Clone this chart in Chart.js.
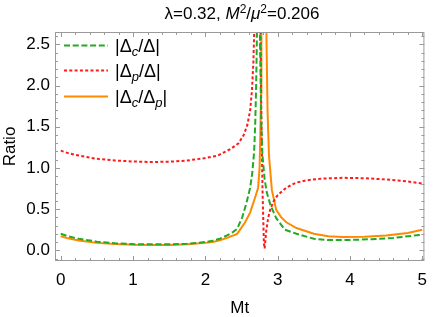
<!DOCTYPE html>
<html>
<head>
<meta charset="utf-8">
<script src="https://cdn.jsdelivr.net/npm/chart.js@4/dist/chart.umd.min.js"></script>
<style>
  html, body { margin: 0; padding: 0; background: #fff; }
  #wrap { width: 436px; height: 317px; }
</style>
</head>
<body>
<div id="wrap"><canvas id="myChart" width="436" height="317"></canvas></div>
<script>
// data
const xTicks = [0, 1, 2, 3, 4, 5];
const yTicks = [0, 0.5, 1.0, 1.5, 2.0, 2.5];

const greenX = [0, 0.1, 0.25, 0.5, 0.75, 1.0, 1.25, 1.5, 1.75, 2.0, 2.1, 2.2, 2.3, 2.38, 2.44, 2.51, 2.57, 2.62, 2.65, 2.675, 2.69, 2.70, 2.71, 2.72, 2.73, 2.745, 2.755, 2.765, 2.775, 2.79, 2.82, 2.85, 2.9, 2.98, 3.1, 3.26, 3.5, 3.7, 4.0, 4.3, 4.6, 4.8, 5.0];
const greenY = [0.20, 0.17, 0.14, 0.105, 0.085, 0.075, 0.072, 0.073, 0.08, 0.10, 0.115, 0.14, 0.18, 0.22, 0.26, 0.40, 0.58, 0.76, 0.95, 1.2, 1.55, 1.9, 2.4, 3.2, 4.5, 3.4, 2.6, 2.0, 1.5, 1.15, 0.86, 0.70, 0.55, 0.39, 0.25, 0.20, 0.14, 0.125, 0.125, 0.135, 0.15, 0.17, 0.19];

const redX = [0, 0.1, 0.25, 0.5, 0.75, 1.0, 1.25, 1.5, 1.75, 2.0, 2.17, 2.35, 2.46, 2.53, 2.58, 2.62, 2.645, 2.665, 2.68, 2.70, 2.73, 2.75, 2.76, 2.77, 2.78, 2.79, 2.80, 2.81, 2.82, 2.84, 2.87, 2.9, 2.94, 3.0, 3.12, 3.25, 3.4, 3.6, 3.9, 4.2, 4.5, 4.8, 5.0];
const redY = [1.21, 1.18, 1.15, 1.11, 1.09, 1.078, 1.072, 1.075, 1.09, 1.12, 1.15, 1.23, 1.30, 1.40, 1.52, 1.70, 1.95, 2.3, 2.8, 4.0, 6.0, 4.0, 2.9, 2.0, 1.3, 0.75, 0.4, 0.08, 0.02, 0.22, 0.40, 0.50, 0.59, 0.67, 0.76, 0.82, 0.85, 0.87, 0.88, 0.875, 0.86, 0.835, 0.81];

const orangeX = [0, 0.1, 0.25, 0.5, 0.75, 1.0, 1.25, 1.5, 1.75, 2.0, 2.1, 2.2, 2.3, 2.44, 2.55, 2.62, 2.68, 2.73, 2.75, 2.76, 2.77, 2.775, 2.79, 2.81, 2.835, 2.845, 2.86, 2.88, 2.92, 2.98, 3.05, 3.12, 3.26, 3.5, 3.7, 3.9, 4.2, 4.5, 4.8, 5.0];
const orangeY = [0.17, 0.145, 0.12, 0.09, 0.075, 0.067, 0.064, 0.065, 0.072, 0.09, 0.10, 0.12, 0.15, 0.20, 0.34, 0.46, 0.62, 0.76, 1.0, 1.4, 1.9, 2.6, 4.5, 8.0, 3.5, 2.6, 1.7, 1.15, 0.73, 0.49, 0.40, 0.34, 0.27, 0.20, 0.17, 0.16, 0.165, 0.18, 0.21, 0.25];

const green = '#22aa22';
const red = '#ff1a1a';
const orange = '#ff8a00';
const fontFam = '"Liberation Sans", Arial, Helvetica, sans-serif';

const pts = (xs, ys) => xs.map((x, i) => ({ x: x, y: ys[i] }));

// title, legend, frame with inward ticks
const extras = {
  id: 'extras',
  afterDraw(chart) {
    const ctx = chart.ctx;
    const a = chart.chartArea;
    const xs = chart.scales.x, ys = chart.scales.y;
    ctx.save();

    // frame
    ctx.strokeStyle = '#9a9a9a';
    ctx.lineWidth = 1;
    ctx.setLineDash([]);
    ctx.strokeRect(a.left + 0.5, a.top + 0.5, a.right - a.left - 1, a.bottom - a.top - 1);

    ctx.beginPath();
    for (let v = 0; v <= 5.0001; v += 0.2) {
      const px = Math.round(xs.getPixelForValue(v)) + 0.5;
      const major = Math.abs(v - Math.round(v)) < 1e-6;
      const len = major ? 5 : 3;
      ctx.moveTo(px, a.bottom); ctx.lineTo(px, a.bottom - len);
      ctx.moveTo(px, a.top); ctx.lineTo(px, a.top + len);
    }
    for (let v = -0.1; v <= 2.6001; v += 0.1) {
      const py = Math.round(ys.getPixelForValue(v)) + 0.5;
      const major = Math.abs(v * 2 - Math.round(v * 2)) < 1e-6;
      const len = major ? 5 : 3;
      ctx.moveTo(a.left, py); ctx.lineTo(a.left + len, py);
      ctx.moveTo(a.right, py); ctx.lineTo(a.right - len, py);
    }
    ctx.stroke();

    // text runs: [text, style, size, dy]
    const drawRuns = (runs, x, y, center) => {
      let w = 0;
      runs.forEach(r => { ctx.font = r[1] + ' ' + r[2] + 'px ' + fontFam; w += ctx.measureText(r[0]).width; });
      let cx = center ? x - w / 2 : x;
      runs.forEach(r => {
        ctx.font = r[1] + ' ' + r[2] + 'px ' + fontFam;
        ctx.fillText(r[0], cx, y + r[3]);
        cx += ctx.measureText(r[0]).width;
      });
    };
    ctx.fillStyle = '#000';
    ctx.textBaseline = 'alphabetic';
    ctx.textAlign = 'left';

    drawRuns([
      ['λ=0.32, ', 'normal', 17, 0],
      ['M', 'italic', 17, 0],
      ['2', 'normal', 12, -6],
      ['/', 'normal', 17, 0],
      ['μ', 'italic', 17, 0],
      ['2', 'normal', 12, -6],
      ['=0.206', 'normal', 17, 0]
    ], 242, 19, true);

    // legend
    const legend = [
      { color: green, dash: [6, 2.7], runs: [['|Δ', 'normal', 18, 0], ['c', 'italic', 13, 4], ['/Δ|', 'normal', 18, 0]] },
      { color: red, dash: [3, 2.3], runs: [['|Δ', 'normal', 18, 0], ['p', 'italic', 13, 4], ['/Δ|', 'normal', 18, 0]] },
      { color: orange, dash: [], runs: [['|Δ', 'normal', 18, 0], ['c', 'italic', 13, 4], ['/Δ', 'normal', 18, 0], ['p', 'italic', 13, 4], ['|', 'normal', 18, 0]] }
    ];
    const rowY = [45.5, 70.5, 96.5];
    legend.forEach((item, i) => {
      ctx.strokeStyle = item.color;
      ctx.lineWidth = 2;
      ctx.setLineDash(item.dash);
      ctx.beginPath();
      ctx.moveTo(64, rowY[i]); ctx.lineTo(108, rowY[i]);
      ctx.stroke();
      ctx.fillStyle = '#000';
      drawRuns(item.runs, 115, rowY[i] + 6, false);
    });

    ctx.restore();
  }
};

const ctx = document.getElementById('myChart');
new Chart(ctx, {
  type: 'scatter',
  data: {
    datasets: [
      { label: '|Δc/Δ|', data: pts(greenX, greenY), borderColor: green, borderWidth: 2, borderDash: [6, 2.7], showLine: true, pointRadius: 0, clip: 0 },
      { label: '|Δp/Δ|', data: pts(redX, redY), borderColor: red, borderWidth: 2, borderDash: [3, 2.3], showLine: true, pointRadius: 0, clip: 0 },
      { label: '|Δc/Δp|', data: pts(orangeX, orangeY), borderColor: orange, borderWidth: 2, showLine: true, pointRadius: 0, clip: 0 }
    ]
  },
  options: {
    responsive: false,
    animation: false,
    layout: { padding: { top: 32, right: 6, left: 0, bottom: 0 } },
    plugins: {
      legend: { display: false },
      title: { display: false },
      tooltip: { enabled: false }
    },
    scales: {
      x: {
        type: 'linear',
        min: -0.08,
        max: 5.03,
        afterFit(s) { s.height = 56; },
        afterBuildTicks(s) { s.ticks = xTicks.map(v => ({ value: v })); },
        grid: { display: false, drawTicks: false },
        border: { display: false },
        ticks: { color: '#000', padding: 9, font: { family: fontFam, size: 17 }, callback: v => String(v) },
        title: { display: true, text: 'Mt', color: '#000', padding: 0, font: { family: fontFam, size: 17, lineHeight: 1 } }
      },
      y: {
        min: -0.13,
        max: 2.65,
        afterFit(s) { s.width = 55; },
        afterBuildTicks(s) { s.ticks = yTicks.map(v => ({ value: v })); },
        grid: { display: false, drawTicks: false },
        border: { display: false },
        ticks: { color: '#000', padding: 5, font: { family: fontFam, size: 17 }, callback: v => Number(v).toFixed(1) },
        title: { display: true, text: 'Ratio', color: '#000', padding: { top: 2, bottom: 0 }, font: { family: fontFam, size: 17, lineHeight: 1 } }
      }
    }
  },
  plugins: [extras]
});
</script>
</body>
</html>
